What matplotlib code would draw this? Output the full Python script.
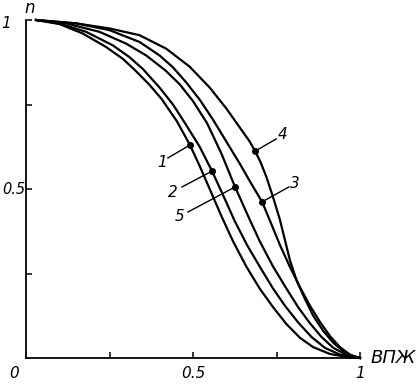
import matplotlib
matplotlib.use("Agg")
import matplotlib.pyplot as plt

# curves (x = ВПЖ, y = n)
c1_x = [0.03, 0.10, 0.17, 0.24, 0.29, 0.326, 0.37, 0.407, 0.452, 0.491, 0.52, 0.55, 0.585, 0.62, 0.66, 0.70, 0.74, 0.78, 0.82, 0.86, 0.91, 0.96, 1.0]
c1_y = [1.0, 0.988, 0.96, 0.92, 0.885, 0.852, 0.808, 0.765, 0.70, 0.630, 0.568, 0.50, 0.42, 0.345, 0.27, 0.205, 0.15, 0.10, 0.06, 0.032, 0.012, 0.003, 0.0]

c2_x = [0.03, 0.10, 0.18, 0.26, 0.31, 0.35, 0.40, 0.44, 0.476, 0.52, 0.557, 0.59, 0.625, 0.662, 0.70, 0.74, 0.775, 0.815, 0.855, 0.895, 0.94, 1.0]
c2_y = [1.0, 0.99, 0.965, 0.925, 0.89, 0.855, 0.80, 0.75, 0.695, 0.625, 0.553, 0.482, 0.405, 0.334, 0.27, 0.205, 0.155, 0.105, 0.062, 0.03, 0.01, 0.0]

c3_x = [0.03, 0.15, 0.25, 0.34, 0.40, 0.44, 0.48, 0.521, 0.56, 0.60, 0.64, 0.675, 0.707, 0.735, 0.76, 0.79, 0.82, 0.85, 0.88, 0.91, 0.94, 0.97, 1.0]
c3_y = [1.0, 0.99, 0.97, 0.935, 0.895, 0.86, 0.815, 0.763, 0.705, 0.64, 0.575, 0.515, 0.462, 0.395, 0.335, 0.27, 0.21, 0.155, 0.107, 0.065, 0.032, 0.01, 0.0]

c4_x = [0.03, 0.15, 0.25, 0.34, 0.42, 0.49, 0.55, 0.60, 0.645, 0.668, 0.686, 0.702, 0.72, 0.74, 0.76, 0.775, 0.79, 0.81, 0.835, 0.86, 0.89, 0.92, 0.95, 0.975, 1.0]
c4_y = [1.0, 0.99, 0.975, 0.955, 0.915, 0.862, 0.80, 0.738, 0.675, 0.643, 0.612, 0.58, 0.535, 0.475, 0.41, 0.35, 0.29, 0.23, 0.175, 0.125, 0.08, 0.045, 0.02, 0.006, 0.0]

c5_x = [0.03, 0.12, 0.22, 0.30, 0.36, 0.416, 0.46, 0.50, 0.542, 0.585, 0.626, 0.665, 0.70, 0.74, 0.78, 0.815, 0.85, 0.885, 0.92, 0.96, 1.0]
c5_y = [1.0, 0.99, 0.965, 0.93, 0.895, 0.852, 0.81, 0.76, 0.695, 0.605, 0.506, 0.42, 0.345, 0.27, 0.205, 0.15, 0.103, 0.062, 0.03, 0.009, 0.0]

curve_names = ["1", "2", "3", "4", "5"]
# point on curve where the label line starts, and label spot
mark_x = [0.491, 0.557, 0.707, 0.686, 0.626]
mark_y = [0.630, 0.553, 0.462, 0.612, 0.506]
lead_x = [0.425, 0.467, 0.787, 0.749, 0.485]
lead_y = [0.592, 0.506, 0.506, 0.648, 0.432]
text_x = [0.407, 0.440, 0.806, 0.768, 0.461]
text_y = [0.577, 0.491, 0.515, 0.662, 0.420]

fig = plt.figure(figsize=(4.18, 3.84), dpi=100)
ax = fig.add_axes([26 / 418, 26 / 384, 334 / 418, 338 / 384])

for xs, ys in [(c1_x, c1_y), (c2_x, c2_y), (c3_x, c3_y), (c4_x, c4_y), (c5_x, c5_y)]:
    ax.plot(xs, ys, color="black", lw=1.6, solid_joinstyle="round", clip_on=False)

for i, name in enumerate(curve_names):
    ax.plot([lead_x[i], mark_x[i]], [lead_y[i], mark_y[i]], color="black", lw=1.0)
    ax.plot(mark_x[i], mark_y[i], "o", color="black", ms=4)
    ax.text(text_x[i], text_y[i], name, fontsize=11, style="italic",
            ha="center", va="center")

ax.set_xlim(0, 1.0)
ax.set_ylim(0, 1.0)
for s in ["top", "right"]:
    ax.spines[s].set_visible(False)
ax.spines["left"].set_linewidth(1.3)
ax.spines["bottom"].set_linewidth(1.3)
ax.set_xticks([0.25, 0.5, 0.75, 1.0])
ax.set_yticks([0.25, 0.5, 0.75, 1.0])
ax.tick_params(direction="in", length=4, width=1.1, labelbottom=False, labelleft=False)

# axis numbers written as in the scan
ax.text(-0.035, -0.045, "0", fontsize=11, style="italic", ha="center", va="center", transform=ax.transAxes)
ax.text(0.5, -0.045, "0.5", fontsize=11, style="italic", ha="center", va="center", transform=ax.transAxes)
ax.text(1.0, -0.045, "1", fontsize=11, style="italic", ha="center", va="center", transform=ax.transAxes)
ax.text(-0.07, 0.5, "0.5", fontsize=10.5, style="italic", ha="left", va="center", transform=ax.transAxes)
ax.text(-0.045, 0.99, "1", fontsize=11, style="italic", ha="right", va="center", transform=ax.transAxes)
ax.text(0.01, 1.035, "n", fontsize=12, style="italic", ha="center", va="center", transform=ax.transAxes)
ax.text(1.03, 0.0, "ВПЖ", fontsize=13, style="italic", ha="left", va="center", transform=ax.transAxes)

fig.savefig("out.png", dpi=100)
